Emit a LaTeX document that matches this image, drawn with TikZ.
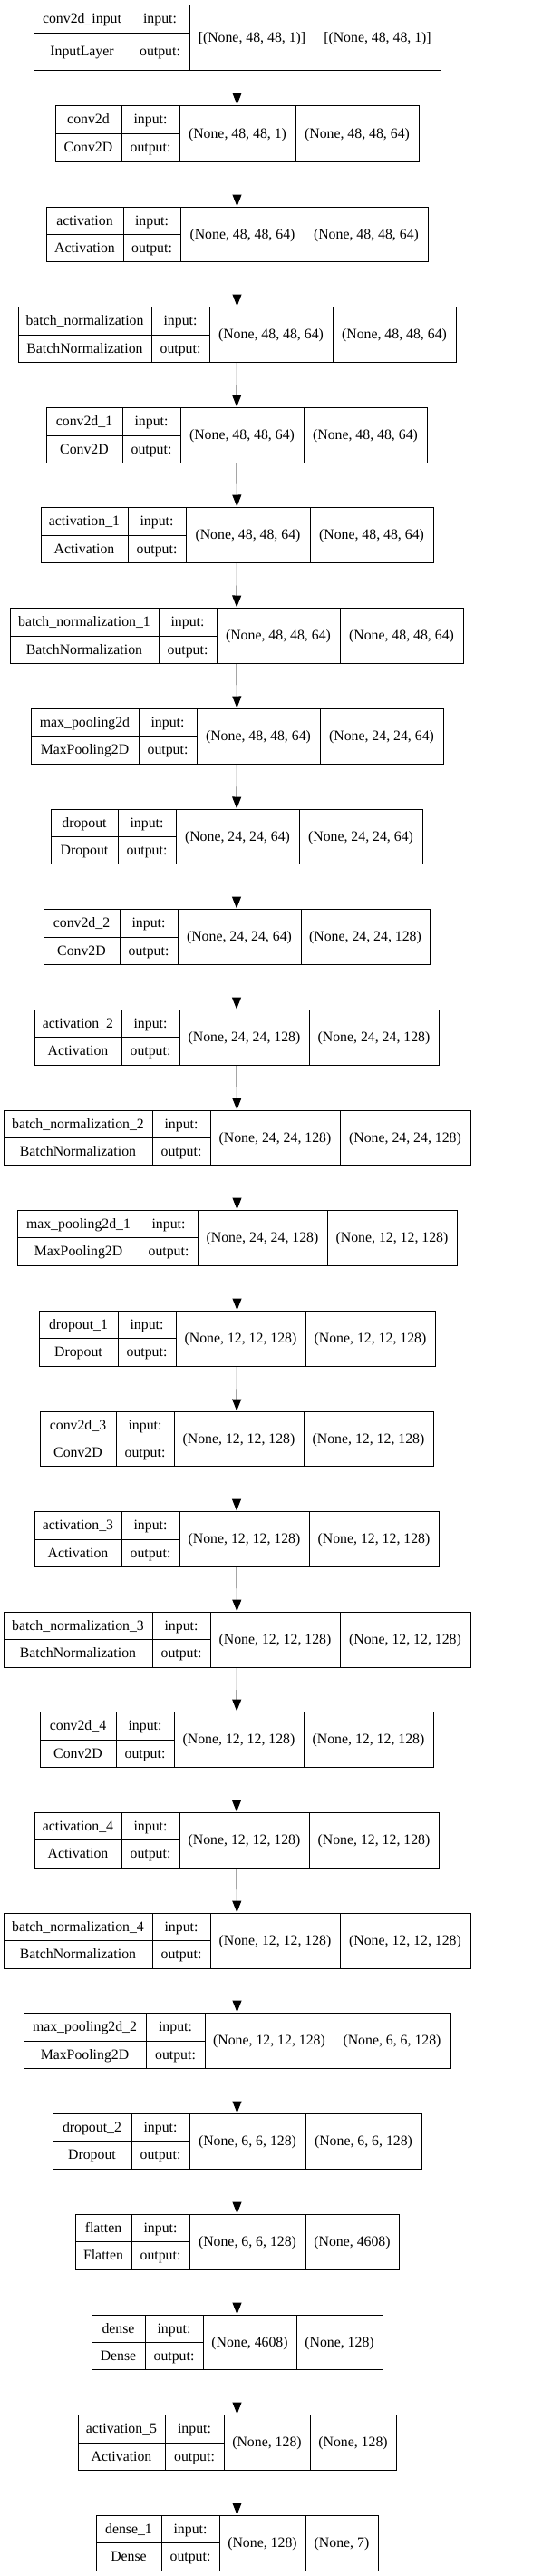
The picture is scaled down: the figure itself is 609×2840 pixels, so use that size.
\documentclass[tikz,border=0pt]{standalone}
\usepackage{fontspec}
\setmainfont{Liberation Serif}
\usetikzlibrary{arrows.meta,fit}
\tikzset{
  boxframe/.style={draw=black, line width=1pt, inner sep=0pt, rectangle},
  sepline/.style={draw=black, line width=1pt},
  lbl/.style={inner sep=0pt, text height=12pt, text depth=2pt, font=\fontsize{15.8}{18}\selectfont},
  arr/.style={draw=black, line width=1pt, -{Triangle[length=13pt,width=10pt]}},
}
\newcommand\geom[8]{\def\gT{#1}\def\gB{#2}\def\gD{#3}\def\xa{#4}\def\xb{#5}\def\xc{#6}\def\xd{#7}\def\xe{#8}}
\newcommand\layer[5]{%
  \node[boxframe, fit={(\xa,\gT)(\xe,\gB)}] (#1) {};
  \draw[sepline] (\xb,\gT) -- (\xb,\gB) (\xc,\gT) -- (\xc,\gB) (\xd,\gT) -- (\xd,\gB) (\xa,\gD) -- (\xc,\gD);
  \node[lbl] (#1-name) at ({(\xa+\xb)/2},{(\gT+\gD)/2}) {#2};
  \node[lbl] (#1-class) at ({(\xa+\xb)/2},{(\gD+\gB)/2}) {#3};
  \node[lbl] (#1-inlbl) at ({(\xb+\xc)/2},{(\gT+\gD)/2}) {input:};
  \node[lbl] (#1-outlbl) at ({(\xb+\xc)/2},{(\gD+\gB)/2}) {output:};
  \node[lbl] (#1-in) at ({(\xc+\xd)/2},{(\gT+\gB)/2}) {#4};
  \node[lbl] (#1-out) at ({(\xd+\xe)/2},{(\gT+\gB)/2}) {#5};
}
\begin{document}
\begin{tikzpicture}[x=1pt,y=-1pt]
\useasboundingbox (0,0) rectangle (609,2840);
\geom{5}{77}{36}{37}{144}{209}{347}{486}
\layer{b1}{conv2d\_input}{InputLayer}{[(None, 48, 48, 1)]}{[(None, 48, 48, 1)]}
\geom{116}{178}{147}{61}{134}{198}{326}{462}
\layer{b2}{conv2d}{Conv2D}{(None, 48, 48, 1)}{(None, 48, 48, 64)}
\geom{228}{288}{258}{51}{136}{199}{336}{472}
\layer{b3}{activation}{Activation}{(None, 48, 48, 64)}{(None, 48, 48, 64)}
\geom{338}{399}{369}{20}{167}{231}{367}{503}
\layer{b4}{batch\_normalization}{BatchNormalization}{(None, 48, 48, 64)}{(None, 48, 48, 64)}
\geom{449}{510}{480}{51}{135}{199}{335}{471}
\layer{b5}{conv2d\_1}{Conv2D}{(None, 48, 48, 64)}{(None, 48, 48, 64)}
\geom{559}{620}{590}{45}{141}{205}{342}{478}
\layer{b6}{activation\_1}{Activation}{(None, 48, 48, 64)}{(None, 48, 48, 64)}
\geom{670}{731}{701}{11}{175}{239}{375}{511}
\layer{b7}{batch\_normalization\_1}{BatchNormalization}{(None, 48, 48, 64)}{(None, 48, 48, 64)}
\geom{781}{842}{811}{34}{153}{217}{353}{489}
\layer{b8}{max\_pooling2d}{MaxPooling2D}{(None, 48, 48, 64)}{(None, 24, 24, 64)}
\geom{892}{952}{922}{56}{130}{194}{330}{466}
\layer{b9}{dropout}{Dropout}{(None, 24, 24, 64)}{(None, 24, 24, 64)}
\geom{1002}{1063}{1033}{48}{132}{196}{332}{474}
\layer{b10}{conv2d\_2}{Conv2D}{(None, 24, 24, 64)}{(None, 24, 24, 128)}
\geom{1113}{1174}{1143}{38}{134}{198}{341}{484}
\layer{b11}{activation\_2}{Activation}{(None, 24, 24, 128)}{(None, 24, 24, 128)}
\geom{1224}{1284}{1254}{4}{168}{232}{375}{519}
\layer{b12}{batch\_normalization\_2}{BatchNormalization}{(None, 24, 24, 128)}{(None, 24, 24, 128)}
\geom{1334}{1395}{1364}{19}{154}{218}{361}{504}
\layer{b13}{max\_pooling2d\_1}{MaxPooling2D}{(None, 24, 24, 128)}{(None, 12, 12, 128)}
\geom{1445}{1506}{1475}{43}{130}{194}{337}{480}
\layer{b14}{dropout\_1}{Dropout}{(None, 12, 12, 128)}{(None, 12, 12, 128)}
\geom{1556}{1616}{1586}{44}{128}{192}{335}{478}
\layer{b15}{conv2d\_3}{Conv2D}{(None, 12, 12, 128)}{(None, 12, 12, 128)}
\geom{1666}{1727}{1697}{38}{134}{198}{341}{484}
\layer{b16}{activation\_3}{Activation}{(None, 12, 12, 128)}{(None, 12, 12, 128)}
\geom{1777}{1838}{1807}{4}{168}{232}{375}{519}
\layer{b17}{batch\_normalization\_3}{BatchNormalization}{(None, 12, 12, 128)}{(None, 12, 12, 128)}
\geom{1887}{1948}{1918}{44}{128}{192}{335}{478}
\layer{b18}{conv2d\_4}{Conv2D}{(None, 12, 12, 128)}{(None, 12, 12, 128)}
\geom{1998}{2059}{2028}{38}{134}{198}{341}{484}
\layer{b19}{activation\_4}{Activation}{(None, 12, 12, 128)}{(None, 12, 12, 128)}
\geom{2109}{2170}{2139}{4}{168}{232}{375}{519}
\layer{b20}{batch\_normalization\_4}{BatchNormalization}{(None, 12, 12, 128)}{(None, 12, 12, 128)}
\geom{2219}{2280}{2250}{26}{161}{226}{368}{497}
\layer{b21}{max\_pooling2d\_2}{MaxPooling2D}{(None, 12, 12, 128)}{(None, 6, 6, 128)}
\geom{2330}{2391}{2360}{58}{145}{209}{337}{465}
\layer{b22}{dropout\_2}{Dropout}{(None, 6, 6, 128)}{(None, 6, 6, 128)}
\geom{2441}{2502}{2471}{83}{145}{209}{337}{440}
\layer{b23}{flatten}{Flatten}{(None, 6, 6, 128)}{(None, 4608)}
\geom{2552}{2612}{2582}{101}{160}{224}{327}{422}
\layer{b24}{dense}{Dense}{(None, 4608)}{(None, 128)}
\geom{2662}{2723}{2693}{86}{182}{247}{342}{437}
\layer{b25}{activation\_5}{Activation}{(None, 128)}{(None, 128)}
\geom{2773}{2834}{2803}{106}{178}{242}{337}{417}
\layer{b26}{dense\_1}{Dense}{(None, 128)}{(None, 7)}
\foreach \i [evaluate=\i as \j using int(\i+1)] in {1,...,25}
  \draw[arr] (b\i) -- (b\j);
\end{tikzpicture}
\end{document}
